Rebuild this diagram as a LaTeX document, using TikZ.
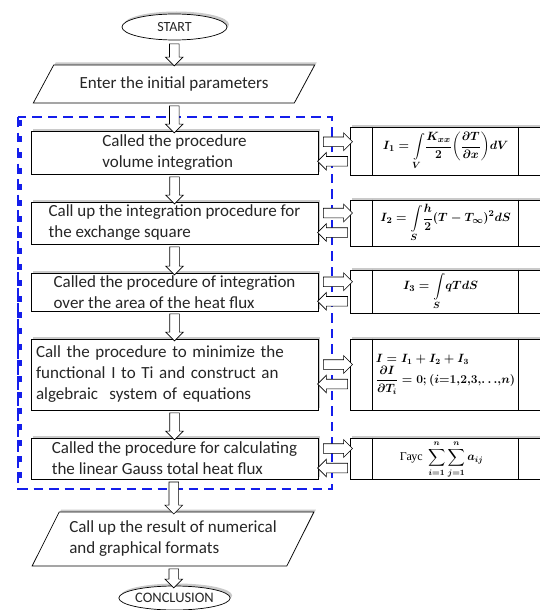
\documentclass[tikz,border=0pt]{standalone}
\usepackage{fontspec}
\usepackage{amsmath}
\setmainfont{Carlito}
\newfontfamily\cyrfont{Liberation Serif}
\usetikzlibrary{shapes.geometric,shapes.arrows,shadows,calc}
\definecolor{frameblue}{RGB}{20,30,235}

\begin{document}
\begin{tikzpicture}[x=1pt,y=-1pt,
  txt/.style={font=\fontsize{17}{21}\selectfont, text=black!85},
  shade/.style={drop shadow={shadow xshift=2pt, shadow yshift=2.5pt, fill=black!35, opacity=0.6}},
  term/.style={ellipse, draw, line width=0.7pt, fill=white, shade, minimum width=105pt, inner sep=0pt, text=black!85},
  io/.style={trapezium, trapezium stretches=true, draw, line width=0.7pt, fill=white, shade, minimum width=282pt, align=left, txt},
  proc/.style={rectangle, draw, line width=0.9pt, fill=white, shade, minimum width=287pt, inner sep=0pt, align=left, txt},
  row/.style={rectangle, draw, line width=0.8pt, fill=white, shade, minimum width=210pt, inner sep=0pt},
  cell/.style={line width=0.8pt},
  formula/.style={font=\fontsize{13}{16}\selectfont\boldmath, inner sep=0pt},
  darrow/.style={single arrow, draw, line width=0.6pt, fill=white, inner sep=4.5pt, single arrow head extend=4pt, single arrow head indent=0pt, shape border rotate=270},
  rarrow/.style={darrow, shape border rotate=0, minimum height=29pt},
  larrow/.style={darrow, shape border rotate=180, minimum height=30pt},
  frame/.style={draw=frameblue, line width=2pt, dash pattern=on 9.5pt off 6pt}]
\useasboundingbox (0,0) rectangle (539,610);

% dashed block of the computing procedures
\draw[frame] (18,117) rectangle (332,489);
\draw[frame, line width=5pt, dash pattern=on 6pt off 10pt] (19.5,120) -- (19.5,489);

\node[term, minimum height=26pt, font=\fontsize{14}{16}\selectfont] (start) at (174.5,27) {START};
\node[io, minimum height=38pt, trapezium left angle=52, trapezium right angle=128] (inp) at (174,84) {Enter the initial parameters};

\node[proc, minimum height=43pt] (b1) at (174.5,152.5) {Called the procedure\\volume integration};
\node[proc, minimum height=42pt] (b2) at (174.5,223) {Call up the integration procedure for\\the exchange square};
\node[proc, minimum height=38pt] (b3) at (174.5,292) {Called the procedure of integration\\over the area of the heat flux};
\node[proc, minimum height=71pt, text width=277pt, inner xsep=5pt] (b4) at (174.5,374.5) {Call the procedure to minimize the\\functional I to Ti and construct an\\algebraic\ \ system of equations};
\node[proc, minimum height=41pt] (b5) at (174.5,458.5) {Called the procedure for calculating\\the linear Gauss total heat flux};

\node[io, minimum height=54pt, trapezium left angle=59, trapezium right angle=121] (out) at (173,539) {Call up the result of numerical\\and graphical formats};
\node[term, minimum height=24pt, font=\fontsize{14.5}{16}\selectfont] (stop) at (174.5,598) {CONCLUSION};

% formula table
\node[row, minimum height=48pt] (t1) at (455,151) {};
\node[row, minimum height=46pt] (t2) at (455,223) {};
\node[row, minimum height=43pt] (t3) at (455,291.5) {};
\node[row, minimum height=71pt] (t4) at (455,374.5) {};
\node[row, minimum height=41pt] (t5) at (455,458.5) {};
\foreach \t in {t1,t2,t3,t4,t5} {
  \draw[cell] ($(\t.north west)+(23,0)$) -- ($(\t.south west)+(23,0)$);
  \draw[cell] ($(\t.north west)+(169,0)$) -- ($(\t.south west)+(169,0)$);
}

\node[formula] (f1) at ($(t1.west)+(96,0)$) {$\displaystyle I_1=\int\limits_V\!\frac{K_{xx}}{2}\!\left(\frac{\partial T}{\partial x}\right)\!dV$};
\node[formula] (f2) at ($(t2.west)+(96,0)$) {$\displaystyle I_2=\int\limits_S\!\frac{h}{2}(T-T_\infty)^2dS$};
\node[formula] (f3) at ($(t3.west)+(91,0)$) {$\displaystyle I_3=\int\limits_S\!qTdS$};
\node[formula, anchor=west, align=left, font=\fontsize{11.5}{15}\selectfont\boldmath] (f4) at ($(t4.west)+(26,0)$) {$I=I_1+I_2+I_3$\\[1pt]$\displaystyle\frac{\partial I}{\partial T_i}=0;(i{=}1{,}2{,}3{,}{\ldots}{,}n)$};
\node[formula, font=\fontsize{12}{15}\selectfont\boldmath] (f5) at ($(t5.west)+(92,1)$) {{\cyrfont\unboldmath Гаус}\ \ $\displaystyle\sum_{i=1}^n\sum_{j=1}^n a_{ij}$};

% hollow arrows
\foreach \u/\v/\l in {start/inp/22,inp/b1/27,b1/b2/27,b2/b3/28,b3/b4/27,b4/b5/27,b5/out/32,out/stop/19}
  \node[darrow, minimum height=\l pt] (d-\u) at ($(\u.south)!0.5!(\v.north)$) {};
\foreach \i in {1,...,5} {
  \node[rarrow] (r\i) at ($(b\i.east)!0.5!(t\i.west)+(1.5,-10)$) {};
  \node[larrow] (l\i) at ($(b\i.east)!0.5!(t\i.west)+(1,9.5)$) {};
}
\end{tikzpicture}
\end{document}
